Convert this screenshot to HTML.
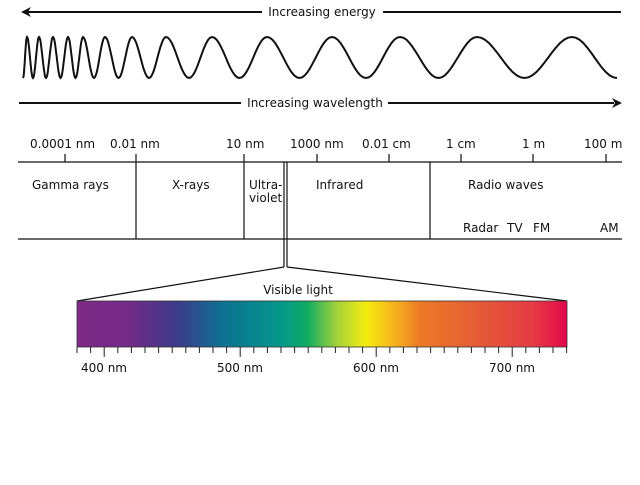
<!DOCTYPE html>
<html><head><meta charset="utf-8"><style>
body{margin:0;background:#fff;width:640px;height:480px;overflow:hidden}
svg text{font-family:"DejaVu Sans","Liberation Sans",sans-serif;font-size:12px;fill:#111}
</style></head><body>
<svg width="640" height="480" viewBox="0 0 640 480" xmlns="http://www.w3.org/2000/svg">
<defs>
<linearGradient id="sp" x1="0" x2="1" y1="0" y2="0">
<stop offset="0" stop-color="#7b2a85"/>
<stop offset="0.1" stop-color="#742a86"/>
<stop offset="0.2" stop-color="#3f3989"/>
<stop offset="0.3" stop-color="#0c7292"/>
<stop offset="0.42" stop-color="#05998a"/>
<stop offset="0.47" stop-color="#0eac62"/>
<stop offset="0.53" stop-color="#a4d13a"/>
<stop offset="0.59" stop-color="#f3ec0e"/>
<stop offset="0.65" stop-color="#f6b11d"/>
<stop offset="0.7" stop-color="#eb7a25"/>
<stop offset="0.85" stop-color="#e4533a"/>
<stop offset="0.93" stop-color="#e63a44"/>
<stop offset="1" stop-color="#e2084a"/>
</linearGradient>
</defs>
<g stroke="#111" stroke-width="2" fill="none">
<line x1="28" y1="12" x2="262" y2="12"/>
<line x1="383" y1="12" x2="621" y2="12"/>
<line x1="19" y1="103" x2="241" y2="103"/>
<line x1="388" y1="103" x2="614" y2="103"/>
<path id="wave" stroke-width="2"/>
</g>
<polygon points="21,12 31,7 28,12 31,17" fill="#111"/>
<polygon points="622,103 612,98 615,103 612,108" fill="#111"/>
<text x="322" y="16" text-anchor="middle">Increasing energy</text>
<text x="315" y="107" text-anchor="middle">Increasing wavelength</text>

<g stroke="#111" stroke-width="1.2">
<line x1="18" y1="162" x2="622" y2="162"/>
<line x1="18" y1="239" x2="622" y2="239"/>
<line x1="136" y1="162" x2="136" y2="239"/>
<line x1="244" y1="162" x2="244" y2="239"/>
<line x1="430" y1="162" x2="430" y2="239"/>
<line x1="284" y1="162" x2="284" y2="267"/>
<line x1="287" y1="162" x2="287" y2="267"/>
<line x1="65" y1="154" x2="65" y2="162"/>
<line x1="136" y1="154" x2="136" y2="162"/>
<line x1="244" y1="154" x2="244" y2="162"/>
<line x1="317" y1="154" x2="317" y2="162"/>
<line x1="389" y1="154" x2="389" y2="162"/>
<line x1="461" y1="154" x2="461" y2="162"/>
<line x1="533" y1="154" x2="533" y2="162"/>
<line x1="606" y1="154" x2="606" y2="162"/>
<line x1="284" y1="267" x2="77" y2="301"/>
<line x1="287" y1="267" x2="567" y2="301"/>
</g>
<text x="30" y="148">0.0001 nm</text>
<text x="110" y="148">0.01 nm</text>
<text x="226" y="148">10 nm</text>
<text x="290" y="148">1000 nm</text>
<text x="362" y="148">0.01 cm</text>
<text x="446" y="148">1 cm</text>
<text x="522" y="148">1 m</text>
<text x="584" y="148">100 m</text>
<text x="32" y="189">Gamma rays</text>
<text x="172" y="189">X-rays</text>
<text x="249" y="189">Ultra-</text>
<text x="249" y="202">violet</text>
<text x="316" y="189">Infrared</text>
<text x="468" y="189">Radio waves</text>
<text x="463" y="232">Radar</text>
<text x="507" y="232">TV</text>
<text x="533" y="232">FM</text>
<text x="600" y="232">AM</text>
<text x="298" y="294" text-anchor="middle">Visible light</text>
<rect x="77" y="301" width="490" height="46" fill="url(#sp)" stroke="#333" stroke-width="0.8"/>
<g id="ticks" stroke="#222" stroke-width="1"></g>
<text x="104" y="372" text-anchor="middle">400 nm</text>
<text x="240" y="372" text-anchor="middle">500 nm</text>
<text x="376" y="372" text-anchor="middle">600 nm</text>
<text x="512" y="372" text-anchor="middle">700 nm</text>
</svg>
<script>
var peaks=[27,39,53,68,83,105,132,166,212,267,332,400,477,572];
var ext=[[23,78]];
for(var i=0;i<peaks.length;i++){ext.push([peaks[i],37]);if(i<peaks.length-1)ext.push([(peaks[i]+peaks[i+1])/2,78]);}
ext.push([617,78]);
var d="M"+ext[0][0]+","+ext[0][1];
for(var i=1;i<ext.length;i++){var a=ext[i-1],b=ext[i];for(var s=1;s<=12;s++){var t=s/12;var x=a[0]+(b[0]-a[0])*t;var y=a[1]+(b[1]-a[1])*(1-Math.cos(Math.PI*t))/2;d+=" L"+x.toFixed(1)+","+y.toFixed(1);}}
document.getElementById("wave").setAttribute("d",d);
var g=document.getElementById("ticks"),h="";
for(var nm=380;nm<=740;nm+=10){var x=77+(nm-380)*1.36;var big=nm%100==0;h+='<line x1="'+x+'" y1="347" x2="'+x+'" y2="'+(big?357:353)+'"/>';}
g.innerHTML=h;
</script>
</body></html>
